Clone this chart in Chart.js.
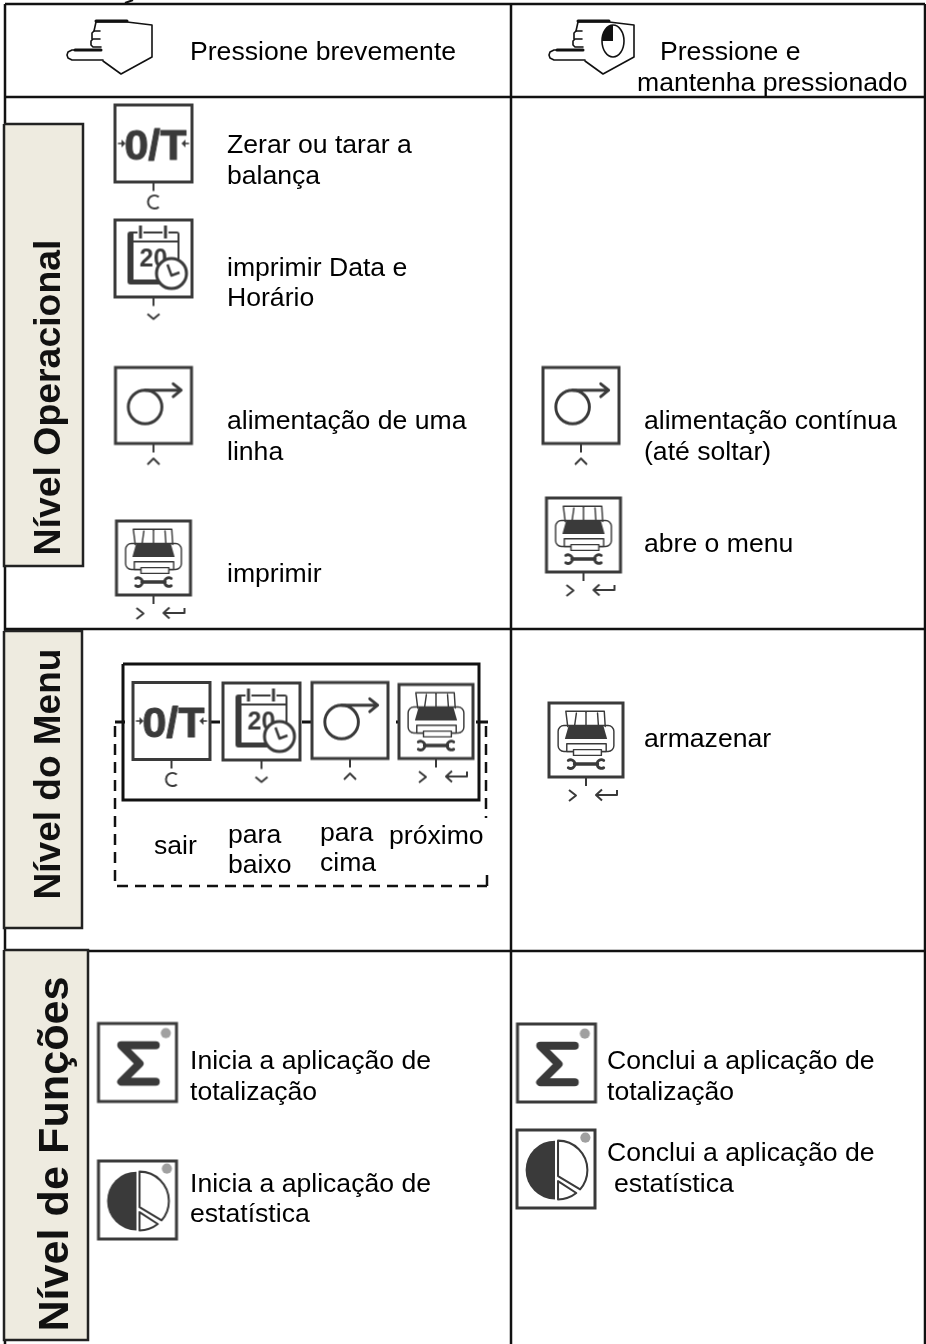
<!DOCTYPE html>
<html>
<head>
<meta charset="utf-8">
<script src="https://cdn.jsdelivr.net/npm/chart.js@4/dist/chart.umd.js"></script>
<style>
  html, body { margin: 0; padding: 0; background: #fff; }
  canvas { display: block; }
</style>
</head>
<body>
<canvas id="chart_1" width="926" height="1344"></canvas>
<script>
// table rules, null breaks the line
const gridX = [5, 925, null, 5, 925, null, 5, 925, null, 5, 925, null, 5, 5, null, 511, 511, null, 925, 925];
const gridY = [4, 4, null, 97, 97, null, 629, 629, null, 951, 951, null, 4, 1344, null, 4, 1344, null, 4, 1344];

// side label boxes
const boxX = [4, 83, 83, 4, 4, null, 4, 82, 82, 4, 4, null, 4, 88, 88, 4, 4];
const boxY = [124, 124, 566, 566, 124, null, 631, 631, 928, 928, 631, null, 950, 950, 1340, 1340, 950];

// menu frame and the bits of line between its keys
const frameX = [123, 479, 479, 123, 123, null, 115, 125, null, 210, 220, null, 302, 312, null, 396, 399, null, 476, 488];
const frameY = [664, 664, 800, 800, 664, null, 722, 722, null, 722, 722, null, 722, 722, null, 722, 722, null, 722, 722];

const dashX = [115, 115, 487, null, 487, 487, null, 486, 486];
const dashY = [726, 886, 886, null, 875, 886, null, 726, 818];

// tail of the cut off heading above the table
const headTailX = [125, 133];
const headTailY = [3, 0];

const tareX = [153.5, 171.5];
const tareY = [143.5, 721];
const calendarX = [153.5, 261.5];
const calendarY = [258.5, 721.5];
const feedX = [153.5, 581, 350];
const feedY = [405.5, 405.5, 720.5];
const printerX = [153.5, 583.5, 436, 586];
const printerY = [558, 535, 721.5, 740];
const sigmaX = [137.5, 556.5];
const sigmaY = [1062.5, 1063];
const pieX = [137.5, 556];
const pieY = [1200, 1169];
const handX = [109, 591];
const handY = [48, 48];

const textLabels = [
  "Pressione brevemente", "Pressione e", "mantenha pressionado",
  "Zerar ou tarar a", "balança", "imprimir Data e", "Horário",
  "alimentação de uma", "linha", "imprimir",
  "alimentação contínua", "(até soltar)", "abre o menu",
  "sair", "para", "baixo", "para", "cima", "próximo", "armazenar",
  "Inicia a aplicação de", "totalização", "Inicia a aplicação de", "estatística",
  "Conclui a aplicação de", "totalização", "Conclui a aplicação de", "estatística"
];
const textX = [
  190, 660, 637,
  227, 227, 227, 227,
  227, 227, 227,
  644, 644, 644,
  154, 228, 228, 320, 320, 389, 644,
  190, 190, 190, 190,
  607, 607, 607, 614
];
const textY = [
  60, 60, 91,
  153, 184, 276, 306,
  429, 460, 582,
  429, 460, 552,
  854, 843, 873, 841, 871, 844, 747,
  1069, 1100, 1192, 1222,
  1069, 1100, 1161, 1192
];

const sideLabels = ["Nível Operacional", "Nível do Menu", "Nível de Funções"];
const sideX = [60, 60, 68];
const sideY = [397.5, 774, 1154];
const sideSizes = [37.4, 37, 43.2];

const dark = "#3a3a3a";
const black = "#111";

function new_icon(w, h) {
  const c = document.createElement("canvas");
  c.width = w;
  c.height = h;
  const ctx = c.getContext("2d");
  ctx.translate(w / 2, h / 2);
  ctx.strokeStyle = dark;
  ctx.fillStyle = dark;
  ctx.lineWidth = 3;
  ctx.lineCap = "round";
  ctx.lineJoin = "round";
  return [c, ctx];
}

function line(ctx, pts) {
  ctx.beginPath();
  pts.forEach((p, i) => i ? ctx.lineTo(p[0], p[1]) : ctx.moveTo(p[0], p[1]));
  ctx.stroke();
}

function key_icon(size, key, draw) {
  const [c, ctx] = new_icon(130, 170);
  ctx.save();
  ctx.lineJoin = "miter";
  ctx.strokeRect(-size / 2, -size / 2, size, size);
  ctx.restore();
  const s = size / 77;
  ctx.save();
  ctx.scale(s, s);
  draw(ctx);
  ctx.restore();
  if (!key) return c;
  // stem and key glyph under the box
  const b = size / 2;
  ctx.lineWidth = 2;
  ctx.lineCap = "butt";
  line(ctx, [[0, b], [0, b + 9]]);
  if (key == "C") {
    ctx.beginPath();
    ctx.arc(1, b + 20, 6.5, 0.85, Math.PI * 2 - 0.85, false);
    ctx.stroke();
  } else if (key == "down") {
    line(ctx, [[-6, b + 17], [0, b + 22], [6, b + 17]]);
  } else if (key == "up") {
    line(ctx, [[-6, b + 21], [0, b + 15], [6, b + 21]]);
  } else {
    line(ctx, [[-17, b + 13], [-10, b + 18.5], [-17, b + 24]]);
    line(ctx, [[31, b + 13], [31, b + 18], [10, b + 18]]);
    line(ctx, [[16, b + 12.5], [10, b + 18], [16, b + 23.5]]);
  }
  return c;
}

function draw_tare(ctx) {
  ctx.font = "bold 43px 'Liberation Sans'";
  ctx.textAlign = "center";
  ctx.textBaseline = "alphabetic";
  ctx.lineWidth = 1;
  ctx.fillText("0/T", 2, 16);
  ctx.strokeText("0/T", 2, 16);
  ctx.lineWidth = 1.5;
  line(ctx, [[-35, 0], [-30, 0]]);
  line(ctx, [[35, 0], [30, 0]]);
  ctx.beginPath();
  ctx.moveTo(-28, 0); ctx.lineTo(-32, -4); ctx.lineTo(-32, 4); ctx.closePath();
  ctx.moveTo(28, 0); ctx.lineTo(32, -4); ctx.lineTo(32, 4); ctx.closePath();
  ctx.fill();
}

function draw_calendar(ctx) {
  ctx.beginPath();
  ctx.roundRect(-26, -27, 52, 53, 3);
  ctx.fill();
  ctx.fillStyle = "#fff";
  ctx.fillRect(-20, -25, 44, 46);
  ctx.fillStyle = dark;
  ctx.fillRect(-20, -18, 44, 2);
  ctx.lineCap = "butt";
  ctx.strokeStyle = "#fff";
  ctx.lineWidth = 6;
  line(ctx, [[-13, -33], [-13, -20]]);
  line(ctx, [[12, -33], [12, -20]]);
  ctx.strokeStyle = dark;
  ctx.lineWidth = 3;
  line(ctx, [[-13, -33], [-13, -20]]);
  line(ctx, [[12, -33], [12, -20]]);
  ctx.font = "bold 25px 'Liberation Sans'";
  ctx.textAlign = "center";
  ctx.fillText("20", 0, 8);
  ctx.fillStyle = "#fff";
  ctx.beginPath();
  ctx.arc(18, 15, 15, 0, Math.PI * 2);
  ctx.fill();
  ctx.stroke();
  ctx.lineWidth = 2.5;
  line(ctx, [[14, 6], [18, 17], [26, 14]]);
}

function draw_feed(ctx) {
  ctx.beginPath();
  ctx.arc(-8.5, 1.5, 17, 0, Math.PI * 2);
  ctx.stroke();
  line(ctx, [[-8.5, -15.5], [27, -15.5]]);
  line(ctx, [[20, -22], [28, -15.5], [20, -9]]);
}

function draw_printer(ctx) {
  ctx.lineWidth = 1.5;
  // paper
  line(ctx, [[-19, -14], [-21, -30], [19, -30], [20, -14]]);
  line(ctx, [[0, -29], [0, -14]]);
  line(ctx, [[-10, -28], [-12, -14]]);
  line(ctx, [[12, -28], [13, -14]]);
  // body
  ctx.beginPath();
  ctx.roundRect(-29, -15, 58, 27, 6);
  ctx.stroke();
  // dark top
  ctx.beginPath();
  ctx.moveTo(-18, -15); ctx.lineTo(18, -15); ctx.lineTo(22, -1); ctx.lineTo(-22, -1);
  ctx.closePath();
  ctx.fill();
  // tray
  ctx.fillStyle = "#fff";
  ctx.fillRect(-20, 4, 41, 8);
  ctx.strokeRect(-20, 4, 41, 8);
  ctx.fillRect(-13, 10, 29, 6);
  ctx.strokeRect(-13, 10, 29, 6);
  // wrench
  ctx.lineWidth = 3.5;
  line(ctx, [[-12, 25], [12, 25]]);
  ctx.lineWidth = 3;
  ctx.beginPath();
  ctx.arc(-16, 25, 4.5, -Math.PI + 1, Math.PI - 1, false);
  ctx.stroke();
  ctx.beginPath();
  ctx.arc(16, 25, 4.5, 1, Math.PI * 2 - 1, false);
  ctx.stroke();
}

function draw_sigma(ctx) {
  ctx.lineWidth = 8;
  line(ctx, [[18, -17], [-16, -17], [2, 1], [-16, 19], [18, 19]]);
  ctx.fillStyle = "#a0a0a0";
  ctx.beginPath();
  ctx.arc(28, -29, 5, 0, Math.PI * 2);
  ctx.fill();
}

function draw_pie(ctx) {
  ctx.beginPath();
  ctx.arc(-1, 1, 29, Math.PI / 2, Math.PI * 1.5);
  ctx.closePath();
  ctx.fill();
  ctx.lineWidth = 2;
  ctx.beginPath();
  ctx.moveTo(2, 7);
  ctx.lineTo(2, -28);
  ctx.arc(2, 1, 29, -Math.PI / 2, 0.72);
  ctx.closePath();
  ctx.stroke();
  ctx.beginPath();
  ctx.moveTo(2, 12);
  ctx.lineTo(2, 30);
  ctx.arc(2, 1, 29, Math.PI / 2, 0.9, true);
  ctx.closePath();
  ctx.stroke();
  ctx.fillStyle = "#a0a0a0";
  ctx.beginPath();
  ctx.arc(29, -31, 5, 0, Math.PI * 2);
  ctx.fill();
}

function hand_icon(timer) {
  const [c, ctx] = new_icon(100, 70);
  ctx.strokeStyle = black;
  ctx.lineWidth = 1.6;
  // pointing finger
  line(ctx, [[-6, 12], [-37, 12], [-41, 10], [-42, 7], [-41, 4], [-37, 2], [-8, 2]]);
  // knuckles
  line(ctx, [[-8, -1], [-16, -1], [-18, -3], [-18, -7], [-16, -9], [-9, -9]]);
  line(ctx, [[-17, -9], [-17, -15], [-15, -17], [-9, -17]]);
  // back of the hand
  line(ctx, [[-15, -17], [-13, -26], [18, -26], [43, -23], [43, 9], [12, 26], [-6, 13]]);
  ctx.lineWidth = 3;
  line(ctx, [[-8, 2], [-34, 2]]);
  line(ctx, [[-13, -27], [18, -27]]);
  if (timer) {
    ctx.lineWidth = 1.6;
    ctx.beginPath();
    ctx.ellipse(22, -7, 11, 16, 0, 0, Math.PI * 2);
    ctx.stroke();
    ctx.fillStyle = black;
    ctx.beginPath();
    ctx.moveTo(22, -7);
    ctx.lineTo(22, -23);
    ctx.ellipse(22, -7, 11, 16, 0, -Math.PI / 2, -Math.PI, true);
    ctx.closePath();
    ctx.fill();
  }
  return c;
}

function xy(xs, ys) {
  return xs.map((x, i) => ({ x: x, y: ys[i] }));
}

function icon_set(xs, ys, style) {
  return {
    data: xy(xs, ys),
    showLine: false,
    pointStyle: style,
    pointRadius: 10,
    pointHoverRadius: 10,
    borderWidth: 0,
    clip: false
  };
}

function stroke_set(xs, ys, color, width, extra) {
  return Object.assign({
    data: xy(xs, ys),
    borderColor: color,
    borderWidth: width,
    pointRadius: 0,
    fill: false,
    tension: 0,
    clip: false
  }, extra);
}

const text_plugin = {
  id: "table_text",
  afterDatasetsDraw(chart) {
    const ctx = chart.ctx;
    const x = chart.scales.x;
    const y = chart.scales.y;
    ctx.save();
    ctx.fillStyle = "#000";
    ctx.textBaseline = "alphabetic";
    ctx.font = "26.6px 'Liberation Sans'";
    textLabels.forEach((t, i) => {
      ctx.fillText(t, x.getPixelForValue(textX[i]), y.getPixelForValue(textY[i]));
    });
    ctx.fillStyle = "#111";
    ctx.textAlign = "center";
    sideLabels.forEach((t, i) => {
      ctx.save();
      ctx.translate(x.getPixelForValue(sideX[i]), y.getPixelForValue(sideY[i]));
      ctx.rotate(-Math.PI / 2);
      ctx.font = `bold ${sideSizes[i]}px 'Liberation Sans'`;
      ctx.fillText(t, 0, 0);
      ctx.restore();
    });
    ctx.restore();
  }
};

const chart = new Chart(document.getElementById("chart_1").getContext("2d"), {
  type: "line",
  data: {
    datasets: [
      icon_set(tareX, tareY, key_icon(77, "C", draw_tare)),
      icon_set(calendarX, calendarY, key_icon(77, "down", draw_calendar)),
      icon_set(feedX, feedY, key_icon(76, "up", draw_feed)),
      icon_set(printerX, printerY, key_icon(74, "enter", draw_printer)),
      icon_set(sigmaX, sigmaY, key_icon(78, "", draw_sigma)),
      icon_set(pieX, pieY, key_icon(78, "", draw_pie)),
      icon_set(handX.slice(0, 1), handY.slice(0, 1), hand_icon(false)),
      icon_set(handX.slice(1), handY.slice(1), hand_icon(true)),
      stroke_set(frameX, frameY, black, 3),
      stroke_set(headTailX, headTailY, black, 2),
      stroke_set(dashX, dashY, black, 2.5, { borderDash: [11, 7] }),
      stroke_set(boxX, boxY, "#222", 2.5, { fill: "shape", backgroundColor: "#eeebe0" }),
      stroke_set(gridX, gridY, black, 2.5)
    ]
  },
  options: {
    responsive: false,
    animation: false,
    events: [],
    layout: { padding: 0, autoPadding: false },
    plugins: { legend: { display: false }, tooltip: { enabled: false } },
    scales: {
      x: { type: "linear", min: 0, max: 926, display: false },
      y: { type: "linear", min: 0, max: 1344, reverse: true, display: false }
    }
  },
  plugins: [text_plugin]
});
</script>
</body>
</html>
